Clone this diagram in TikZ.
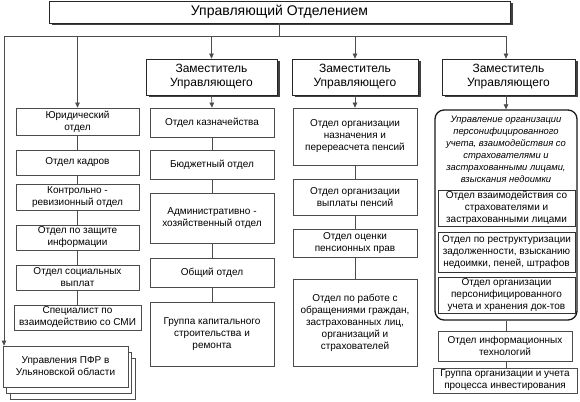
\documentclass[tikz,border=0pt]{standalone}
\usepackage{fontspec}
\setmainfont{Liberation Sans}
\usetikzlibrary{arrows.meta,shadows}
\begin{document}
\begin{tikzpicture}[x=1pt,y=-1pt,
  box/.style={draw=black!70, line width=0.7pt, fill=white, align=center, inner sep=0pt, font=\fontsize{10}{12}\selectfont},
  zam/.style={box, draw=black!85, font=\fontsize{12}{14}\selectfont, drop shadow={shadow xshift=2.5pt, shadow yshift=-2.5pt, opacity=1, fill=black!75}},
  inbox/.style={box, draw=black!80, line width=0.9pt},
  conn/.style={draw=black!70, line width=0.7pt},
  arr/.style={conn, -{Triangle[length=5pt,width=4.5pt]}},
]
\useasboundingbox (0,0) rectangle (580,401);

% top
\node[zam, font=\fontsize{14}{16}\selectfont, minimum width=461pt, minimum height=22pt] (top) at (279.5,12) {Управляющий Отделением};

% deputies
\node[zam, minimum width=131pt, minimum height=36pt] (zam1) at (211.5,77) {Заместитель\\Управляющего};
\node[zam, minimum width=126pt, minimum height=36pt] (zam2) at (355,77) {Заместитель\\Управляющего};
\node[zam, minimum width=133pt, minimum height=36pt] (zam3) at (508.5,77) {Заместитель\\Управляющего};

% column 1
\node[box, minimum width=123pt, minimum height=27pt] (jur) at (77.5,121.5) {Юридический\\отдел};
\node[box, minimum width=123pt, minimum height=25pt] (kadr) at (77.5,162.5) {Отдел кадров};
\node[box, minimum width=123pt, minimum height=26pt] (kontr) at (77.5,197) {Контрольно -\\ревизионный отдел};
\node[box, minimum width=123pt, minimum height=25pt] (zash) at (77.5,237.5) {Отдел по защите\\информации};
\node[box, minimum width=123pt, minimum height=25pt] (soc) at (77.5,277.5) {Отдел социальных\\выплат};
\node[box, minimum width=127pt, minimum height=25pt] (spec) at (77.5,317.5) {Специалист по\\взаимодействию со СМИ};

% stacked regional offices
\node[box, minimum width=125pt, minimum height=41pt] (upr3) at (72.5,378.5) {};
\node[box, minimum width=125pt, minimum height=41pt] (upr2) at (69,372.5) {};
\node[box, minimum width=125pt, minimum height=41pt] (upr) at (65.5,366.5) {Управления ПФР в\\Ульяновской области};

% column 2
\node[box, minimum width=124pt, minimum height=29pt] (kazn) at (212,122.5) {Отдел казначейства};
\node[box, minimum width=124pt, minimum height=29pt] (budg) at (212,164.5) {Бюджетный отдел};
\node[box, minimum width=124pt, minimum height=50pt] (admin) at (212,218) {Административно -\\хозяйственный отдел};
\node[box, minimum width=124pt, minimum height=29pt] (obsh) at (212,272.5) {Общий отдел};
\node[box, minimum width=124pt, minimum height=64pt] (grup) at (212,334) {Группа капитального\\строительства и\\ремонта};

% column 3
\node[box, minimum width=124pt, minimum height=57pt] (c3a) at (355,136.5) {Отдел организации\\назначения и\\перереасчета пенсий};
\node[box, minimum width=124pt, minimum height=36pt] (c3b) at (355,197) {Отдел организации\\выплаты пенсий};
\node[box, minimum width=124pt, minimum height=28pt] (c3c) at (355,243) {Отдел оценки\\пенсионных прав};
\node[box, minimum width=124pt, minimum height=87pt] (c3d) at (355,322.5) {Отдел по работе с\\обращениями граждан,\\застрахованных лиц,\\организаций и\\страхователей};

% column 4
\node[draw=black!90, line width=1.3pt, rounded corners=9pt, fill=white, minimum width=142pt, minimum height=210pt, inner sep=0pt] (round) at (506,215) {};
\node[align=center, inner sep=0pt, font=\itshape\fontsize{9.4}{12}\selectfont] (rtxt) at (506,149) {Управление организации\\персонифицированного\\учета, взаимодействия со\\страхователями и\\застрахованными лицами,\\взыскания недоимки};
\node[inbox, minimum width=137pt, minimum height=36pt] (in1) at (506.5,208) {Отдел взаимодействия со\\страхователями и\\застрахованными лицами};
\node[inbox, minimum width=137pt, minimum height=40pt] (in2) at (506.5,252) {Отдел по реструктуризации\\задолженности, взысканию\\недоимки, пеней, штрафов};
\node[inbox, minimum width=137pt, minimum height=36pt] (in3) at (506.5,295) {Отдел организации\\персонифицированного\\учета и хранения док-тов};
\node[box, minimum width=134pt, minimum height=30pt] (it) at (505,346) {Отдел информационных\\технологий};
\node[box, minimum width=144pt, minimum height=25pt] (grp4) at (505,380.5) {Группа организации и учета\\процесса инвестирования};

% bus
\coordinate (bL) at (4,36);
\draw[conn] (top.south) -- (top.south |- bL);
\draw[conn] (bL) -- (round.north |- bL);
\draw[arr] (bL) -- (bL |- upr.north);
\draw[arr] (jur.north |- bL) -- (jur.north);
\draw[arr] (zam1.north |- bL) -- (zam1.north);
\draw[arr] (zam2.north |- bL) -- (zam2.north);
\draw[arr] (round.north |- bL) -- (round.north |- zam3.north);

% column links
\draw[conn] (jur) -- (kadr);
\draw[conn] (kadr) -- (kontr);
\draw[conn] (kontr) -- (zash);
\draw[conn] (zash) -- (soc);
\draw[conn] (soc) -- (spec);

\draw[arr] (zam1.south) -- (kazn.north);
\draw[conn] (kazn) -- (budg);
\draw[conn] (budg) -- (admin);
\draw[conn] (admin) -- (obsh);
\draw[conn] (obsh) -- (grup);

\draw[arr] (zam2.south) -- (c3a.north);
\draw[conn] (c3a) -- (c3b);
\draw[conn] (c3b) -- (c3c);
\draw[conn] (c3c) -- (c3d);

\draw[arr] (round.north |- zam3.south) -- (round.north);
\draw[conn] (round.south) -- (it.north -| round.south);
\draw[conn] (it.south -| round.south) -- (grp4.north -| round.south);
\end{tikzpicture}
\end{document}
